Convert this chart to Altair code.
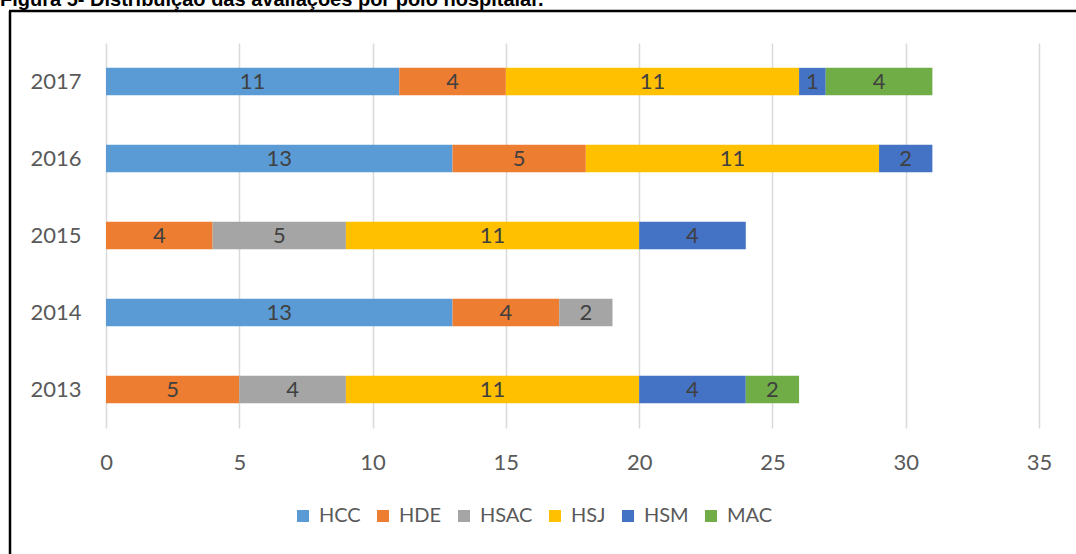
import altair as alt
import pandas as pd

title_text = "Figura 5- Distribuição das avaliações por polo hospitalar."
years = ["2013", "2014", "2015", "2016", "2017"]
hospitals = ["HCC", "HDE", "HSAC", "HSJ", "HSM", "MAC"]
colors = ["#5B9BD5", "#ED7D31", "#A5A5A5", "#FFC000", "#4472C4", "#70AD47"]

hcc = [0, 13, 0, 13, 11]
hde = [5, 4, 4, 5, 4]
hsac = [4, 2, 5, 0, 0]
hsj = [11, 0, 11, 11, 11]
hsm = [4, 0, 4, 2, 1]
mac = [2, 0, 0, 0, 4]
series = [hcc, hde, hsac, hsj, hsm, mac]
x_ticks = [0, 5, 10, 15, 20, 25, 30, 35]

rows = []
for oi, (h, vals) in enumerate(zip(hospitals, series)):
    for y, v in zip(years, vals):
        if v > 0:
            rows.append({"year": y, "hospital": h, "value": v, "order": oi})
df = pd.DataFrame(rows)

FONT = "Lato"
GRAY = "#595959"

y_enc = alt.Y(
    "year:N",
    sort=years[::-1],
    scale=alt.Scale(paddingInner=0.645, paddingOuter=0.3225),
    axis=alt.Axis(title=None, ticks=False, domain=False, grid=False,
                  labelPadding=25, labelFontSize=22, labelFont=FONT,
                  labelColor=GRAY),
)
x_axis = alt.Axis(title=None, values=x_ticks, grid=True, gridColor="#D9D9D9",
                  gridWidth=1.5, ticks=False, domain=False, labelPadding=24,
                  labelFlush=False,
                  labelFontSize=22, labelFont=FONT, labelColor=GRAY)
x_scale = alt.Scale(domain=[0, 35], nice=False)

base = alt.Chart(df).transform_stack(
    stack="value", groupby=["year"], as_=["x0", "x1"],
    sort=[alt.SortField("order")],
).transform_calculate(mid="(datum.x0 + datum.x1) / 2")

bars = base.mark_bar().encode(
    y=y_enc,
    x=alt.X("x0:Q", scale=x_scale, axis=x_axis),
    x2="x1:Q",
    color=alt.Color(
        "hospital:N",
        scale=alt.Scale(domain=hospitals, range=colors),
        legend=alt.Legend(title=None, orient="none", legendX=187, legendY=463,
                          direction="horizontal", symbolType="square",
                          symbolSize=144, symbolStrokeWidth=0,
                          labelFontSize=20, labelFont=FONT, labelColor=GRAY,
                          labelOffset=6, columnPadding=12),
    ),
)

labels = base.mark_text(fontSize=22, font=FONT, color="#404040",
                        baseline="middle").encode(
    y=y_enc,
    x=alt.X("mid:Q", scale=x_scale, axis=x_axis),
    text="value:Q",
)

one = pd.DataFrame({"t": [title_text]})
title_layer = alt.Chart(one).mark_text(
    align="left", baseline="alphabetic", font="Liberation Sans",
    fontSize=20, fontWeight="bold", color="black",
).encode(x=alt.value(-106), y=alt.value(-37), text="t:N")

frame_left = alt.Chart(one).mark_rule(color="black", strokeWidth=2.5).encode(
    x=alt.value(-96), y=alt.value(-32), y2=alt.value(520))
frame_top = alt.Chart(one).mark_rule(color="black", strokeWidth=2.5).encode(
    x=alt.value(-97), x2=alt.value(980), y=alt.value(-32))

chart = alt.layer(bars, labels, title_layer, frame_left, frame_top).properties(
    width=933, height=385,
    background="white",
    autosize=alt.AutoSizeParams(type="none"),
    padding={"left": 106, "top": 43, "right": 37, "bottom": 126},
).configure_view(strokeWidth=0, stroke="transparent")

chart.save("out.html", embed_options={"renderer": "svg", "actions": False})
